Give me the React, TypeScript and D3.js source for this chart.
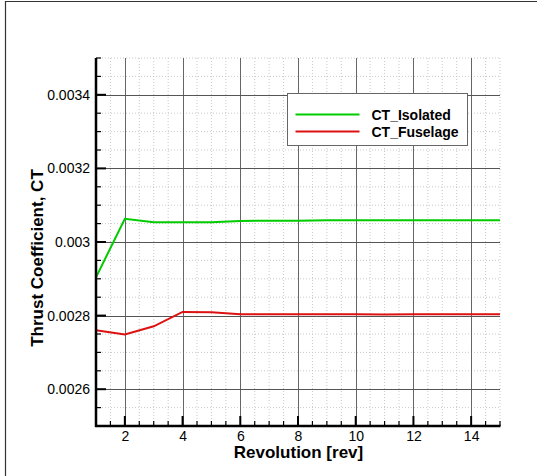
import React, { useEffect, useRef } from 'react';
import * as d3 from 'd3';

const revolutions = [1, 2, 3, 4, 5, 6, 7, 8, 9, 10, 11, 12, 13, 14, 15];
const ctIsolated = [0.002904, 0.003063, 0.003054, 0.003054, 0.003054, 0.003057, 0.003058, 0.003058, 0.003059, 0.003059, 0.003059, 0.003059, 0.003059, 0.003059, 0.003059];
const ctFuselage = [0.00276, 0.002749, 0.002771, 0.00281, 0.002809, 0.002804, 0.002804, 0.002804, 0.002804, 0.002804, 0.002803, 0.002804, 0.002804, 0.002804, 0.002804];
const seriesNames = ['CT_Isolated', 'CT_Fuselage'];
const seriesColors = ['#00cc00', '#dd1111'];
const yTicks = [0.0026, 0.0028, 0.003, 0.0032, 0.0034];
const xTicks = [2, 4, 6, 8, 10, 12, 14];

const App = () => {
    const ref = useRef<SVGSVGElement>(null);

    useEffect(() => {
        const svg = d3.select(ref.current);
        svg.selectAll('*').remove();

        const margin = { top: 58, right: 37, bottom: 50, left: 96 };
        const width = 537 - margin.left - margin.right;
        const height = 476 - margin.top - margin.bottom;
        const font = '"Liberation Sans", Arial, sans-serif';

        // outer frame (top + left only)
        svg.append('path')
            .attr('d', 'M5.5,476 L5.5,1.5 L537,1.5')
            .attr('fill', 'none')
            .attr('stroke', '#333')
            .attr('stroke-width', 1.2);

        const x = d3.scaleLinear().domain([1, 15]).range([0, width]);
        const y = d3.scaleLinear().domain([0.0025, 0.0035]).range([height, 0]);

        const g = svg.append('g')
            .attr('transform', `translate(${margin.left},${margin.top})`);

        const isMajorY = (v: number) => yTicks.some(t => Math.abs(t - v) < 1e-9);

        // minor dotted grid
        const xMinor = d3.range(1, 15.01, 0.5).filter(v => v % 2 !== 0);
        const yMinor = d3.range(0.0025, 0.003501, 0.00005).filter(v => !isMajorY(v));

        g.selectAll('.xminor')
            .data(xMinor)
            .enter().append('line')
            .attr('x1', d => x(d)).attr('x2', d => x(d))
            .attr('y1', 0).attr('y2', height)
            .attr('stroke', '#bbb')
            .attr('stroke-width', 0.8)
            .attr('stroke-dasharray', '1,2');

        g.selectAll('.yminor')
            .data(yMinor)
            .enter().append('line')
            .attr('x1', 0).attr('x2', width)
            .attr('y1', d => y(d)).attr('y2', d => y(d))
            .attr('stroke', '#bbb')
            .attr('stroke-width', 0.8)
            .attr('stroke-dasharray', '1,2');

        // major grid
        g.selectAll('.xmajor')
            .data(xTicks)
            .enter().append('line')
            .attr('x1', d => Math.round(x(d)) + 0.5).attr('x2', d => Math.round(x(d)) + 0.5)
            .attr('y1', 0).attr('y2', height)
            .attr('stroke', '#666')
            .attr('stroke-width', 1);

        g.selectAll('.ymajor')
            .data(yTicks)
            .enter().append('line')
            .attr('x1', 0).attr('x2', width)
            .attr('y1', d => Math.round(y(d)) + 0.5).attr('y2', d => Math.round(y(d)) + 0.5)
            .attr('stroke', '#555')
            .attr('stroke-width', 1);

        // lines
        const line = d3.line<number>()
            .x((d, i) => x(revolutions[i]))
            .y(d => y(d));

        [ctIsolated, ctFuselage].forEach((vals, i) => {
            g.append('path')
                .datum(vals)
                .attr('fill', 'none')
                .attr('stroke', seriesColors[i])
                .attr('stroke-width', 2)
                .attr('d', line);
        });

        // axes
        const yAxis = d3.axisLeft(y).tickValues(yTicks).tickSize(0).tickPadding(6)
            .tickFormat(d => d3.format('')(+d) as string);
        const ya = g.append('g').call(yAxis);
        ya.select('.domain').remove();
        ya.selectAll('text')
            .attr('font-family', font)
            .attr('font-size', 14)
            .attr('fill', '#000');

        const xAxis = d3.axisBottom(x).tickValues(xTicks).tickSize(0).tickPadding(5);
        const xa = g.append('g').attr('transform', `translate(0,${height})`).call(xAxis);
        xa.select('.domain').remove();
        xa.selectAll('text')
            .attr('font-family', font)
            .attr('font-size', 14)
            .attr('fill', '#000');

        // inward ticks
        const yMinorTicks = d3.range(0.0025, 0.003501, 0.00005);
        g.selectAll('.ytick')
            .data(yMinorTicks)
            .enter().append('line')
            .attr('x1', 0)
            .attr('x2', d => isMajorY(d) ? 10 : 5)
            .attr('y1', d => y(d)).attr('y2', d => y(d))
            .attr('stroke', '#000')
            .attr('stroke-width', d => isMajorY(d) ? 2 : 1.2);

        g.selectAll('.xtick')
            .data(d3.range(1, 15.01, 0.5))
            .enter().append('line')
            .attr('x1', d => x(d)).attr('x2', d => x(d))
            .attr('y1', height)
            .attr('y2', d => height - (xTicks.includes(d) ? 10 : 5))
            .attr('stroke', '#000')
            .attr('stroke-width', d => xTicks.includes(d) ? 2 : 1.2);

        g.append('line')
            .attr('x1', 0).attr('x2', 0)
            .attr('y1', 0).attr('y2', height + 1)
            .attr('stroke', '#000').attr('stroke-width', 2.5);
        g.append('line')
            .attr('x1', -1).attr('x2', width + 0.5)
            .attr('y1', height).attr('y2', height)
            .attr('stroke', '#000').attr('stroke-width', 2.5);

        // axis titles
        svg.append('text')
            .attr('transform', 'translate(43,258) rotate(-90)')
            .attr('text-anchor', 'middle')
            .attr('font-family', font)
            .attr('font-weight', 'bold')
            .attr('font-size', 17)
            .text('Thrust Coefficient, CT');

        svg.append('text')
            .attr('x', 298.5)
            .attr('y', 458)
            .attr('text-anchor', 'middle')
            .attr('font-family', font)
            .attr('font-weight', 'bold')
            .attr('font-size', 17)
            .text('Revolution [rev]');

        // legend
        const legend = svg.append('g').attr('transform', 'translate(287.5,93.5)');
        legend.append('rect')
            .attr('width', 180)
            .attr('height', 52)
            .attr('fill', '#fff')
            .attr('stroke', '#666')
            .attr('stroke-width', 1);
        seriesNames.forEach((name, i) => {
            const item = legend.append('g').attr('transform', `translate(0,${21 + i * 17})`);
            item.append('line')
                .attr('x1', 8).attr('x2', 72)
                .attr('stroke', seriesColors[i])
                .attr('stroke-width', 2);
            item.append('text')
                .attr('x', 84)
                .attr('y', 5)
                .attr('font-family', font)
                .attr('font-weight', 'bold')
                .attr('font-size', 14)
                .text(name);
        });
    }, []);

    return (
        <svg ref={ref} width={537} height={476}
            style={{ position: 'absolute', left: 0, top: 0, background: '#fff' }} />
    );
};

export default App;
